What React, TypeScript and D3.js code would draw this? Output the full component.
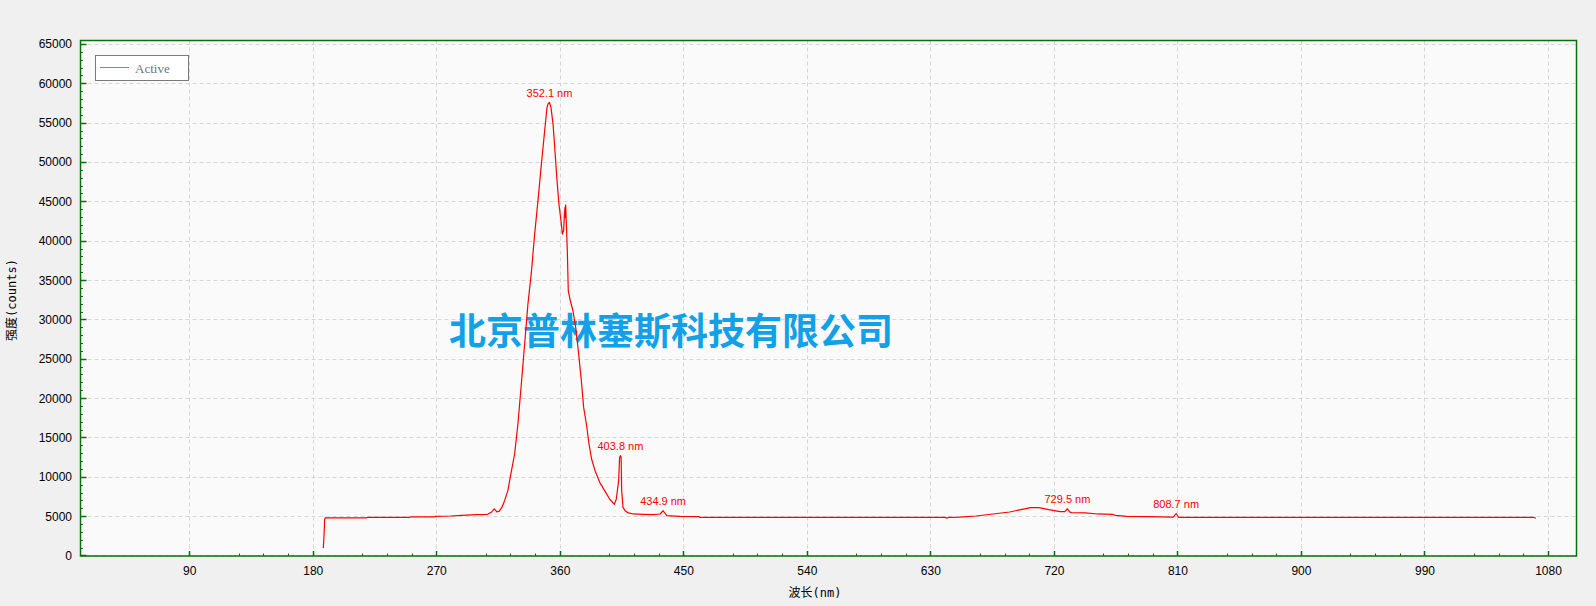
import React from "react";
import * as d3 from "d3";

// ---- data ----
const wavelengths = [
  187.3, 187.8, 188.3, 188.6, 219, 219.5, 250, 251, 268, 269, 280, 288, 299, 307, 310, 311.9, 313.8, 315.5,
  317.5, 319.4, 321.8, 323.5, 326.7, 329.1, 331.6, 334.0, 336.4, 338.9, 341.3, 343.7, 346.2, 348.6, 350.3,
  351.2, 352.1, 353.2, 354.7, 356.1, 357.6, 359.0, 360.5, 361.5, 362.4, 363.0, 363.4, 363.7, 363.9, 364.4,
  365.1, 365.8, 367.3, 369.2, 371.2, 373.1, 375.1, 377.0, 379.0, 380.9, 382.8, 385.3, 388.7, 392.3, 395.9,
  399.4, 400.8, 402.5, 403.2, 403.8, 404.3, 404.7, 405.7, 407.2, 409.6, 413.2, 420.5, 427.8, 432.7, 434.9,
  437.6, 447.2, 461, 461.5, 640, 642, 643, 650.8, 663, 675.2, 687.4, 696.6, 702.7, 708.8, 714.9, 724.1,
  727.5, 729.5, 731, 732.6, 742.4, 751.6, 762.3, 764.4, 773, 788.2, 797.4, 806.6, 808.7, 810.5, 812.1,
  1069.3, 1070.8,
];
const counts = [
  1000, 2500, 4600, 4850, 4850, 4900, 4900, 4960, 4960, 5040, 5085, 5170, 5250, 5300, 5600, 5975, 5600, 5700,
  6200, 7030, 8300, 10000, 12960, 16770, 21850, 26930, 32010, 36030, 40900, 45130, 49790, 54030, 57010,
  57500, 57630, 57010, 54870, 51490, 47670, 44710, 42590, 40900, 41320, 43500, 44290, 43000, 44630, 42170,
  38780, 33700, 32430, 31160, 29050, 26080, 22700, 18880, 16770, 14230, 12320, 10840, 9360, 8300, 7240,
  6570, 7240, 9570, 12540, 12750, 12540, 8300, 6180, 5760, 5470, 5340, 5300, 5250, 5340, 5750,
  5130, 5040, 5000, 4900, 4900, 4820, 4920, 4930, 5085, 5340, 5590, 5930, 6140, 6140, 5930, 5640,
  5640, 6000, 5600, 5510, 5470, 5340, 5300, 5170, 5040, 5000, 4960, 4930, 5400, 4920, 4900,
  4900, 4800,
];
const peakWavelengths = [352.1, 403.8, 434.9, 729.5, 808.7];
const peakCounts = [57630, 12750, 5750, 6000, 5400];
const xTicks = [90, 180, 270, 360, 450, 540, 630, 720, 810, 900, 990, 1080];
const yTicks = [0, 5000, 10000, 15000, 20000, 25000, 30000, 35000, 40000, 45000, 50000, 55000, 60000, 65000];
const seriesName = "Active";
const xTitle = "波长(nm)";
const yTitle = "强度(counts)";
const watermark = "北京普林塞斯科技有限公司";

const W = 1596;
const H = 606;
const L = 80.5, R = 1576.5, T = 40.5, B = 556;

export default function App() {
  const x = d3.scaleLinear().domain([10.4, 1100.4]).range([L, R]);
  const y = d3.scaleLinear().domain([0, 65500]).range([B, T]);
  const px = (v: number) => Math.floor(v) + 0.5;
  const py = (t: number) => Math.min(px(y(t)), B - 0.5);

  const pts: [number, number][] = wavelengths.map((w, i) => [w, counts[i]]);
  const line = d3.line<[number, number]>().x((d) => x(d[0])).y((d) => y(d[1]));

  const xMinor: number[] = [];
  xTicks.slice(0, -1).forEach((t) => [36, 54, 72].forEach((o) => xMinor.push(t + o)));
  const yMinor: number[] = [];
  for (let v = 1000; v < 65500; v += 1000) if (v % 5000 !== 0) yMinor.push(v);

  const green = "#087008";
  const grid = "#d6d6d6";

  return (
    <svg
      width={W}
      height={H}
      style={{ position: "absolute", left: 0, top: 0, display: "block" }}
      fontFamily="'Liberation Sans', Arial, sans-serif"
    >
      <rect x={0} y={0} width={W} height={H} fill="#f0f0f0" />
      <rect x={L} y={T} width={R - L} height={B - T} fill="#fafafa" />

      {/* grid */}
      {xTicks.map((t) => (
        <line key={"gx" + t} x1={px(x(t))} x2={px(x(t))} y1={T} y2={B} stroke={grid} strokeDasharray="4,3" />
      ))}
      {yTicks.map((t) => (
        <line key={"gy" + t} x1={L} x2={R} y1={py(t)} y2={py(t)} stroke={grid} strokeDasharray="4,3" />
      ))}

      {/* watermark */}
      <text
        x={449}
        y={345}
        fontFamily="'Noto Sans CJK SC', sans-serif"
        fontWeight="bold"
        fontSize={37}
        fill="#12a0e8"
      >
        {watermark}
      </text>

      {/* spectrum */}
      <path d={line(pts) || ""} fill="none" stroke="#ff0000" strokeWidth={1.2} strokeLinejoin="round" />

      {/* peak labels */}
      {peakWavelengths.map((w, i) => (
        <text key={"pk" + w} x={x(w)} y={y(peakCounts[i]) - 5.5} textAnchor="middle" fontSize={11} fill="#ff0000">
          {w.toFixed(1) + " nm"}
        </text>
      ))}

      {/* ticks */}
      {xTicks.map((t) => (
        <line key={"tx" + t} x1={px(x(t))} x2={px(x(t))} y1={B} y2={B - 5} stroke={green} strokeWidth={1.5} />
      ))}
      {xMinor.map((t) => (
        <line key={"mx" + t} x1={px(x(t))} x2={px(x(t))} y1={B} y2={B - 2.5} stroke={green} />
      ))}
      {yTicks.map((t) => (
        <line key={"ty" + t} x1={L} x2={L + 6} y1={py(t)} y2={py(t)} stroke={green} strokeWidth={1.5} />
      ))}
      {yMinor.map((t) => (
        <line key={"my" + t} x1={L} x2={L + 2.5} y1={py(t)} y2={py(t)} stroke={green} />
      ))}

      {/* frame */}
      <rect x={L} y={T} width={R - L} height={B - T} fill="none" stroke={green} strokeWidth={1.5} />

      {/* tick labels */}
      {xTicks.map((t) => (
        <text key={"lx" + t} x={x(t)} y={575} textAnchor="middle" fontSize={12} fill="#000">
          {t}
        </text>
      ))}
      {yTicks.map((t) => (
        <text key={"ly" + t} x={72} y={y(t) + 4} textAnchor="end" fontSize={12} fill="#000">
          {t}
        </text>
      ))}

      {/* axis titles */}
      <text
        x={815}
        y={597}
        textAnchor="middle"
        fontSize={12}
        fontFamily="'DejaVu Sans Mono', 'Noto Sans CJK SC', monospace"
        fill="#000"
      >
        {xTitle}
      </text>
      <text
        transform="translate(16,300) rotate(-90)"
        textAnchor="middle"
        fontSize={12}
        fontFamily="'DejaVu Sans Mono', 'Noto Sans CJK SC', monospace"
        fill="#000"
      >
        {yTitle}
      </text>

      {/* legend */}
      <rect x={95.5} y={55.5} width={93} height={25} fill="#ffffff" stroke="#7a7a7a" />
      <line x1={100} x2={129} y1={67.5} y2={67.5} stroke="#f05a5a" />
      <text x={135} y={72.5} fontSize={13} fontFamily="'Liberation Serif', 'Times New Roman', serif" fill="#6f7680">
        {seriesName}
      </text>
    </svg>
  );
}
